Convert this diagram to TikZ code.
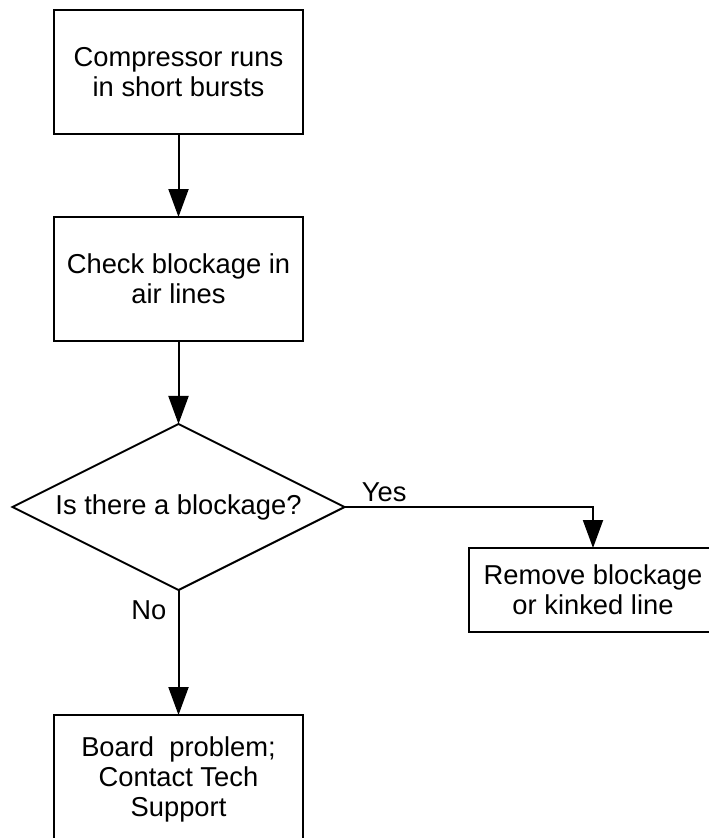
\documentclass[tikz,border=0pt]{standalone}
\usepackage{fontspec}
\setmainfont{Liberation Sans}
\usetikzlibrary{positioning, shapes.geometric, arrows.meta}

\begin{document}
\begin{tikzpicture}[
  process/.style={rectangle, draw, line width=1.5pt, outer sep=0pt, minimum width=186.75pt, minimum height=93pt, align=center},
  decision/.style={diamond, draw, line width=1.5pt, outer sep=0pt, aspect=2, minimum width=249pt, minimum height=124.5pt, inner sep=0pt, align=center},
  arrow/.style={-{Triangle[length=21pt, width=15pt]}, line width=1.5pt},
  every node/.style={font=\fontsize{20.5pt}{22.5pt}\selectfont},
  node distance=62.25pt
]
\useasboundingbox (0,0) rectangle (531.75pt,-628.5pt);

% Nodes
\node[process] (start) at (133.875pt,-54pt) {Compressor runs\\in short bursts};
\node[process, below=of start] (check) {Check blockage in\\air lines};
\node[decision, below=of check] (question) {Is there a blockage?};
\node[process, minimum height=63pt, right=93pt of question, yshift=-62.25pt] (remove) {Remove blockage\\or kinked line};
\node[process, minimum height=96pt, below=93.75pt of question] (board) {Board\ \ problem;\\Contact Tech\\Support};

% Arrows
\draw[arrow] (start) -- (check);
\draw[arrow] (check) -- (question);
\draw[arrow] (question.east) -| node[pos=0.08, above] {Yes} (remove.north);
\draw[arrow] (question.south) -- node[pos=0.16, left=5pt] {No} (board);

\end{tikzpicture}
\end{document}
